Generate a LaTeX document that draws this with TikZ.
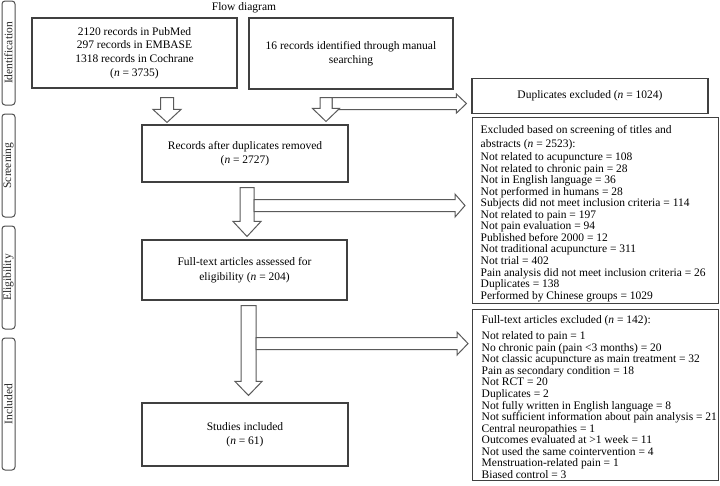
\documentclass[tikz,border=0pt]{standalone}
\usepackage{fontspec}
\setmainfont{Liberation Serif}
\usetikzlibrary{calc}
\definecolor{boxline}{HTML}{404040}
\definecolor{arrline}{HTML}{5A5A5A}
\definecolor{labline}{HTML}{505050}
\newcommand\blkdown[5]{%
  \draw[blk] let \p1=#1, \p2=#2 in
    (\x1-#3pt,\y1) -- (\x1+#3pt,\y1) -- (\x1+#3pt,\y2+#5pt) -- (\x1+#4pt,\y2+#5pt)
    -- (\x1,\y2) -- (\x1-#4pt,\y2+#5pt) -- (\x1-#3pt,\y2+#5pt) -- cycle;}
\newcommand\blkright[5]{%
  \draw[blk] let \p1=#1, \p2=#2 in
    (\x1,\y1+#3pt) -- (\x2-#5pt,\y1+#3pt) -- (\x2-#5pt,\y1+#4pt) -- (\x2,\y1)
    -- (\x2-#5pt,\y1-#4pt) -- (\x2-#5pt,\y1-#3pt) -- (\x1,\y1-#3pt) -- cycle;}
\begin{document}
\begin{tikzpicture}[x=1pt,y=-1pt,
  box/.style={draw=boxline, line width=1.1pt, fill=white, align=center, inner sep=0pt,
    font=\fontsize{11.5}{14.5}\selectfont},
  frame/.style={draw=boxline, line width=1.1pt, inner sep=0pt},
  listtxt/.style={align=left, inner sep=0pt, anchor=north west,
    font=\fontsize{11.5}{11.55}\selectfont},
  lab/.style={draw=labline, line width=1pt, rounded corners=3pt, rotate=90, inner sep=0pt,
    minimum height=13pt, text=black!85, font=\fontsize{11.5}{12}\selectfont},
  blk/.style={draw=arrline, line width=1pt, fill=white, line join=miter},
  ttl/.style={inner sep=0pt, font=\fontsize{11.5}{12}\selectfont}]
\useasboundingbox (0,0) rectangle (720,485);
% stage labels
\node[lab, minimum width=104pt] (lid) at (8.5,53) {Identification};
\node[lab, minimum width=103pt] (lsc) at (8.5,165.5) {Screening};
\node[lab, minimum width=103pt] (lel) at (8.5,277.5) {Eligibility};
\node[lab, minimum width=132pt] (lin) at (8.5,404) {Included};
% title
\node[ttl] (title) at (244,8) {Flow diagram};
% main boxes
\node[box, minimum width=205pt, minimum height=70pt, font=\fontsize{11.5}{13.7}\selectfont] (boxA) at (134.5,53)
  {2120 records in PubMed\\297 records in EMBASE\\1318 records in Cochrane\\(\textit{n} = 3735)};
\node[box, minimum width=204pt, minimum height=71pt] (boxB) at (351,53.5)
  {16 records identified through manual\\searching};
\node[box, minimum width=206pt, minimum height=57pt] (rec) at (245,153.5)
  {Records after duplicates removed\\(\textit{n} = 2727)};
\node[box, minimum width=205pt, minimum height=60pt] (ft) at (244.5,270)
  {Full-text articles assessed for\\eligibility (\textit{n} = 204)};
\node[box, minimum width=206pt, minimum height=63pt] (st) at (245,434.5)
  {Studies included\\(\textit{n} = 61)};
% right boxes
\node[box, minimum width=236pt, minimum height=35pt] (dup) at (590,96)
  {Duplicates excluded (\textit{n} = 1024)};
\node[frame, minimum width=246pt, minimum height=186pt, anchor=north west] (excl) at (472,117) {};
\node[listtxt] (exclt) at ($(excl.north west)+(8.5,8.5)$)
  {Excluded based on screening of titles and\\[1.8pt]
   abstracts (\textit{n} = 2523):\\[1.8pt]
   Not related to acupuncture = 108\\
   Not related to chronic pain = 28\\
   Not in English language = 36\\
   Not performed in humans = 28\\
   Subjects did not meet inclusion criteria = 114\\
   Not related to pain = 197\\
   Not pain evaluation = 94\\
   Published before 2000 = 12\\
   Not traditional acupuncture = 311\\
   Not trial = 402\\
   Pain analysis did not meet inclusion criteria = 26\\
   Duplicates = 138\\
   Performed by Chinese groups = 1029};
\node[frame, minimum width=246pt, minimum height=171pt, anchor=north west] (fte) at (472,309) {};
\node[listtxt] (ftet) at ($(fte.north west)+(9.5,6.5)$)
  {Full-text articles excluded (\textit{n} = 142):\\[4.5pt]
   Not related to pain = 1\\
   No chronic pain (pain <3 months) = 20\\
   Not classic acupuncture as main treatment = 32\\
   Pain as secondary condition = 18\\
   Not RCT = 20\\
   Duplicates = 2\\
   Not fully written in English language = 8\\
   Not sufficient information about pain analysis = 21\\
   Central neuropathies = 1\\
   Outcomes evaluated at >1 week = 11\\
   Not used the same cointervention = 4\\
   Menstruation-related pain = 1\\
   Biased control = 3};
% arrow axes
\coordinate (x1) at (167,0);
\coordinate (x2) at (326,0);
\coordinate (x3) at (247,0);
\coordinate (x4) at (248.5,0);
% block arrows
\blkright{($(boxB.south -| x2)+(6,14)$)}{($(dup.west)+(-5,6)$)}{6}{9.5}{10}
\blkdown{($(boxA.south -| x1)+(0,9)$)}{($(rec.north -| x1)+(0,-2)$)}{6.5}{14}{13}
\blkdown{($(boxB.south -| x2)+(0,8)$)}{($(rec.north -| x2)+(0,-3)$)}{6}{13.5}{13}
\blkdown{($(rec.south -| x3)+(0,5)$)}{($(ft.north -| x3)+(0,-3)$)}{7}{14}{15}
\blkright{($(rec.south -| x3)+(7,23)$)}{($(excl.west |- rec.south)+(-7,23)$)}{6}{11.5}{10}
\blkdown{($(ft.south -| x4)+(0,5)$)}{($(st.north -| x4)+(0,-7)$)}{7.5}{13.5}{14}
\blkright{($(ft.south -| x4)+(7.5,43)$)}{($(fte.west |- ft.south)+(-4,43)$)}{6}{11.5}{11}
\end{tikzpicture}
\end{document}
